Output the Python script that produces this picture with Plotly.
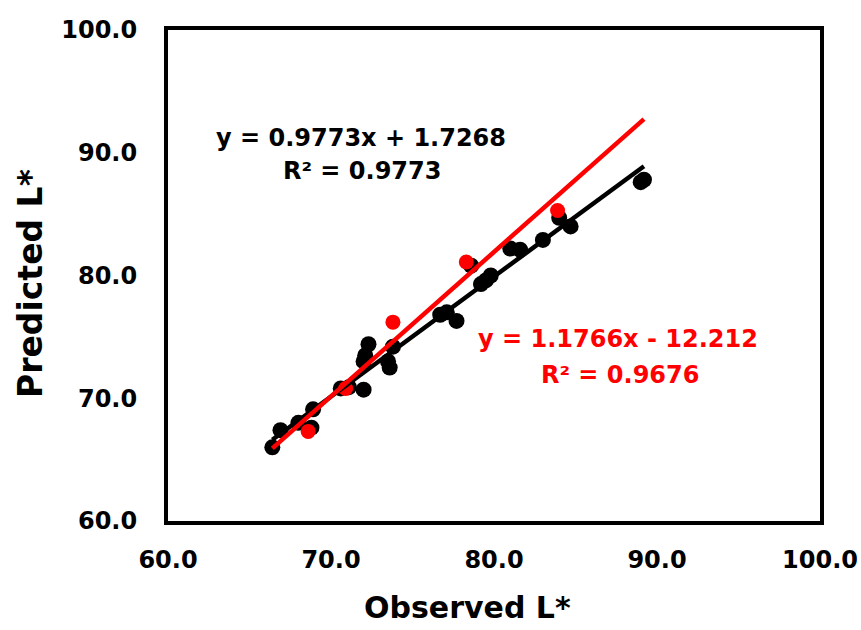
import plotly.graph_objects as go

# Calibration set (black) observed vs predicted L*
obs_black = [66.4, 66.9, 68.0, 68.8, 68.9, 70.6, 71.1, 72.0, 72.0, 72.1, 72.3, 73.6, 73.5, 73.8,
             76.7, 77.1, 77.7, 78.6, 79.2, 79.5, 79.8, 81.0, 81.6, 83.0, 84.0, 84.7, 89.0, 89.2]
pred_black = [66.0, 67.4, 68.0, 67.6, 69.1, 70.8, 70.9, 70.7, 73.0, 73.5, 74.4, 72.5, 73.0, 74.2,
              76.8, 77.0, 76.3, 80.8, 79.3, 79.6, 80.0, 82.2, 82.1, 82.9, 84.7, 84.0, 87.6, 87.8]
# Validation set (red)
obs_red = [68.6, 70.9, 73.8, 78.3, 83.9]
pred_red = [67.3, 70.8, 76.2, 81.1, 85.3]

# Trendline coefficients (slope, intercept)
fit_black = [0.9773, 1.7268]
fit_red = [1.1766, -12.212]

eq_black = ["y = 0.9773x + 1.7268", "R² = 0.9773"]
eq_red = ["y = 1.1766x - 12.212", "R² = 0.9676"]

tick_vals = [60, 70, 80, 90, 100]
tick_text = ["60.0", "70.0", "80.0", "90.0", "100.0"]

FONT = "DejaVu Sans"

all_x = obs_black + obs_red
x0, x1 = min(all_x), max(all_x)

fig = go.Figure()
fig.add_trace(go.Scatter(x=obs_black, y=pred_black, mode="markers",
                         marker=dict(color="black", size=16), showlegend=False))
fig.add_trace(go.Scatter(x=obs_red, y=pred_red, mode="markers",
                         marker=dict(color="#ff0000", size=15), showlegend=False))
fig.add_trace(go.Scatter(x=[x0, x1], y=[fit_black[0] * x0 + fit_black[1], fit_black[0] * x1 + fit_black[1]],
                         mode="lines", line=dict(color="black", width=4.5), showlegend=False))
fig.add_trace(go.Scatter(x=[x0, x1], y=[fit_red[0] * x0 + fit_red[1], fit_red[0] * x1 + fit_red[1]],
                         mode="lines", line=dict(color="#ff0000", width=4.5), showlegend=False))

axis_common = dict(range=[60, 100], tickvals=tick_vals, ticktext=tick_text, showgrid=False,
                   zeroline=False, showline=True, linecolor="black", linewidth=4, mirror=True,
                   ticks="", automargin=False,
                   tickfont=dict(family=FONT, size=24, color="black", weight="bold"))
fig.update_xaxes(**axis_common, ticklabelstandoff=14)
fig.update_yaxes(**axis_common, ticklabelstandoff=22)

annots = [
    dict(x=71.84, y=91.2, text=eq_black[0], color="black"),
    dict(x=71.9, y=88.5, text=eq_black[1], color="black"),
    dict(x=87.6, y=74.8, text=eq_red[0], color="#ff0000"),
    dict(x=87.7, y=71.9, text=eq_red[1], color="#ff0000"),
]
for a in annots:
    fig.add_annotation(x=a["x"], y=a["y"], xref="x", yref="y", text=a["text"], showarrow=False,
                       xanchor="center", yanchor="middle",
                       font=dict(family=FONT, size=24, color=a["color"], weight="bold"))

fig.add_annotation(x=0.4586, y=-0.176, xref="paper", yref="paper", text="Observed L*",
                   showarrow=False, xanchor="center", yanchor="middle",
                   font=dict(family=FONT, size=30, color="black", weight="bold"))
fig.add_annotation(x=-0.2117, y=0.4847, xref="paper", yref="paper", text="Predicted L*",
                   showarrow=False, xanchor="center", yanchor="middle", textangle=-90,
                   font=dict(family=FONT, size=33, color="black", weight="bold"))

fig.update_layout(width=861, height=630, margin=dict(l=168, r=41, t=30, b=109),
                  plot_bgcolor="white", paper_bgcolor="white")

fig.write_html("out.html")
